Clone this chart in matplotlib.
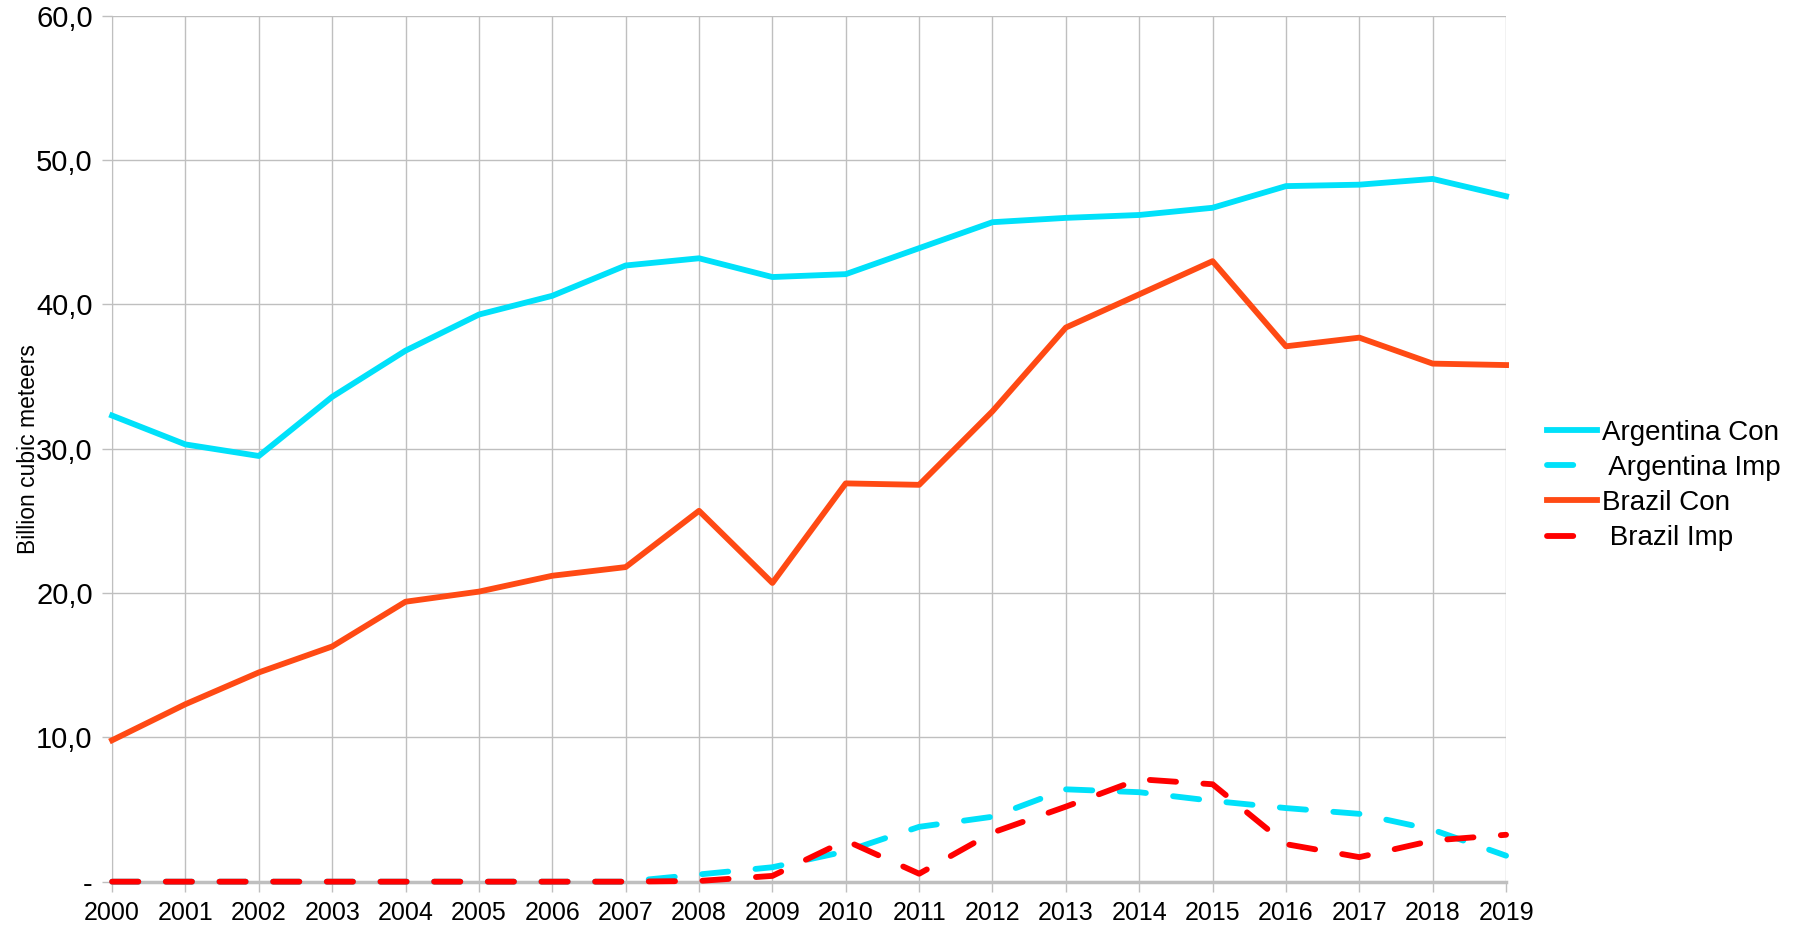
import matplotlib
matplotlib.use("Agg")
import matplotlib.pyplot as plt

plt.rcParams['font.family'] = ['Liberation Sans', 'DejaVu Sans']

years = list(range(2000, 2020))

argentina_con = [32.3, 30.3, 29.5, 33.6, 36.8, 39.3, 40.6, 42.7, 43.2, 41.9,
                 42.1, 43.9, 45.7, 46.0, 46.2, 46.7, 48.2, 48.3, 48.7, 47.5]
argentina_imp = [0, 0, 0, 0, 0, 0, 0, 0, 0.5, 1.0,
                 2.1, 3.8, 4.5, 6.4, 6.2, 5.6, 5.1, 4.7, 3.6, 1.8]
brazil_con = [9.8, 12.3, 14.5, 16.3, 19.4, 20.1, 21.2, 21.8, 25.7, 20.7,
              27.6, 27.5, 32.6, 38.4, 40.7, 43.0, 37.1, 37.7, 35.9, 35.8]
brazil_imp = [0, 0, 0, 0, 0, 0, 0, 0, 0.05, 0.4,
              2.85, 0.55, 3.4, 5.2, 7.1, 6.75, 2.6, 1.7, 2.85, 3.25]

yticks = [0, 10, 20, 30, 40, 50, 60]
ytick_labels = ['-', '10,0', '20,0', '30,0', '40,0', '50,0', '60,0']

cyan = '#00E1FA'
orange = '#FF4A14'
red = '#FF0000'

fig = plt.figure(figsize=(18.08, 9.32), dpi=100)
ax = fig.add_axes([0.062, 0.054, 0.771, 0.929])

lw = 4.2
dash = (4.5, 4.7)  # round caps add one line width to each dash
ax.plot(years, argentina_con, color=cyan, lw=lw, label='Argentina Con', clip_on=False, zorder=3)
ax.plot(years, argentina_imp, color=cyan, lw=lw, dashes=dash, dash_capstyle='round',
        label=' Argentina Imp', clip_on=False, zorder=3)
ax.plot(years, brazil_con, color=orange, lw=lw, label='Brazil Con', clip_on=False, zorder=3)
ax.plot(years, brazil_imp, color=red, lw=lw, dashes=dash, dash_capstyle='round',
        label=' Brazil Imp', clip_on=False, zorder=4)

ax.set_xlim(2000, 2019)
ax.set_ylim(0, 60)
ax.set_xticks(years)
ax.set_xticklabels([str(y) for y in years], fontsize=18)
ax.set_yticks(yticks)
ax.set_yticklabels(ytick_labels, fontsize=21)
ax.tick_params(axis='both', direction='out', length=7, width=1, color='#BFBFBF')
ax.tick_params(axis='x', pad=7)
ax.tick_params(axis='y', pad=7)

ax.grid(True, color='#BFBFBF', lw=1)
ax.set_axisbelow(True)
for side in ['top', 'right']:
    ax.spines[side].set_visible(False)
ax.spines['left'].set_color('#BFBFBF')
ax.spines['bottom'].set_color('#BFBFBF')
ax.spines['bottom'].set_linewidth(2.5)

ax.set_ylabel('Billion cubic meteers', fontsize=16.5)
ax.yaxis.set_label_coords(-0.052, 0.5)

fig.legend(loc='center left', bbox_to_anchor=(0.842, 0.479), frameon=False,
           fontsize=20, handlelength=1.8, handletextpad=0.15, labelspacing=0.33)

fig.savefig('out.png', dpi=100)
